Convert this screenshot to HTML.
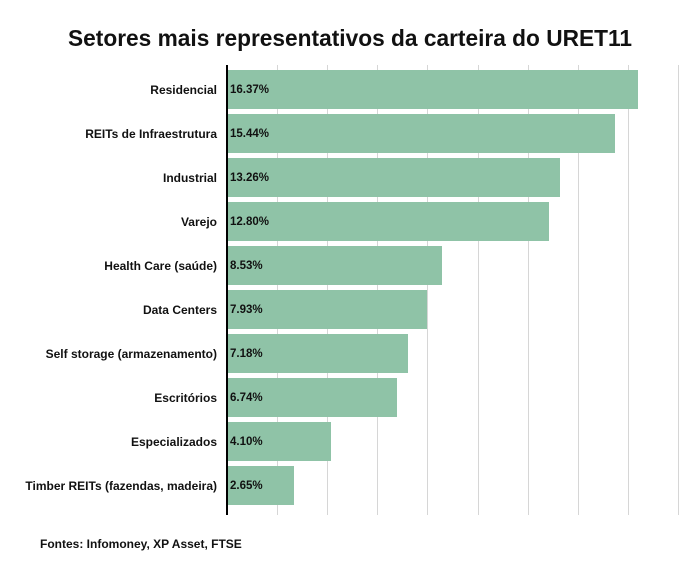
<!DOCTYPE html>
<html><head><meta charset="utf-8"><style>
body{margin:0;background:#fff;}
svg{display:block;font-family:"Liberation Sans",Arial,sans-serif;}
</style></head><body>
<svg width="700" height="580" xmlns="http://www.w3.org/2000/svg">
<rect width="700" height="580" fill="#fff"/>
<text x="350" y="46" text-anchor="middle" font-size="23" font-weight="bold" fill="#111" textLength="564" lengthAdjust="spacingAndGlyphs">Setores mais representativos da carteira do URET11</text>
<g stroke="#d6d6d6" stroke-width="1">
<line x1="277.5" y1="65" x2="277.5" y2="515"/>
<line x1="327.5" y1="65" x2="327.5" y2="515"/>
<line x1="377.5" y1="65" x2="377.5" y2="515"/>
<line x1="427.5" y1="65" x2="427.5" y2="515"/>
<line x1="478.5" y1="65" x2="478.5" y2="515"/>
<line x1="528.5" y1="65" x2="528.5" y2="515"/>
<line x1="578.5" y1="65" x2="578.5" y2="515"/>
<line x1="628.5" y1="65" x2="628.5" y2="515"/>
<line x1="678.5" y1="65" x2="678.5" y2="515"/>
</g>
<g fill="#8fc3a7">
<rect x="228" y="70" width="410" height="39"/>
<rect x="228" y="114" width="387" height="39"/>
<rect x="228" y="158" width="332" height="39"/>
<rect x="228" y="202" width="321" height="39"/>
<rect x="228" y="246" width="214" height="39"/>
<rect x="228" y="290" width="199" height="39"/>
<rect x="228" y="334" width="180" height="39"/>
<rect x="228" y="378" width="169" height="39"/>
<rect x="228" y="422" width="103" height="39"/>
<rect x="228" y="466" width="66" height="39"/>
</g>
<line x1="227" y1="65" x2="227" y2="515" stroke="#000" stroke-width="2"/>
<g font-size="12" font-weight="bold" fill="#111" text-anchor="end">
<text x="217" y="94">Residencial</text>
<text x="217" y="138">REITs de Infraestrutura</text>
<text x="217" y="182">Industrial</text>
<text x="217" y="226">Varejo</text>
<text x="217" y="270">Health Care (saúde)</text>
<text x="217" y="314">Data Centers</text>
<text x="217" y="358">Self storage (armazenamento)</text>
<text x="217" y="402">Escritórios</text>
<text x="217" y="446">Especializados</text>
<text x="217" y="490">Timber REITs (fazendas, madeira)</text>
</g>
<g font-size="11.5" font-weight="bold" fill="#111">
<text x="230" y="93">16.37%</text>
<text x="230" y="137">15.44%</text>
<text x="230" y="181">13.26%</text>
<text x="230" y="225">12.80%</text>
<text x="230" y="269">8.53%</text>
<text x="230" y="313">7.93%</text>
<text x="230" y="357">7.18%</text>
<text x="230" y="401">6.74%</text>
<text x="230" y="445">4.10%</text>
<text x="230" y="489">2.65%</text>
</g>
<text x="40" y="548" font-size="12" font-weight="bold" fill="#111">Fontes: Infomoney, XP Asset, FTSE</text>
</svg>
</body></html>
